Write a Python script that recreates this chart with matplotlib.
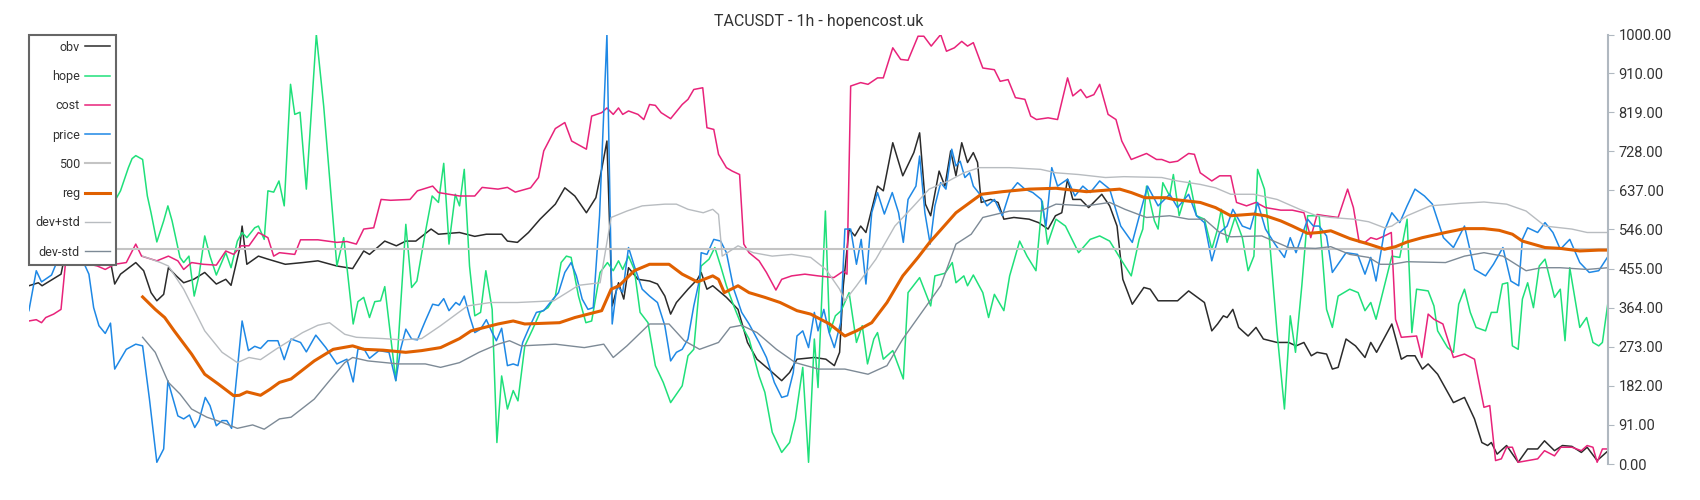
import matplotlib.pyplot as plt

# hour index (0..300) and values
price_x = [0,1.4,2.4,4.3,5.4,6.5,7.2,8.5,10.1,11.4,12.3,13.3,14.5,15.5,16.3,18.5,20.3,21.6,22.9,24.3,25.6,26.4,28.3,29.4,30.5,31.5,32.3,33.5,34.4,35.6,36.7,37.6,38.5,40.5,41.7,42.9,44,45.4,47.3,48.5,49.8,51.6,52.7,54.5,56.4,58.5,60.4,61.6,62.5,63.6,64.7,66.5,68.4,69.7,70.6,71.6,72.7,73.8,75.3,76.7,77.8,78.8,79.8,81.1,81.8,82.7,83.7,84.7,85.8,86.9,88,88.8,89.8,90.9,92,92.9,93.8,94.9,96.4,97.8,99.3,100.6,101.8,103,104,105.1,106.2,107.2,108.4,109.8,110.8,111.7,112.8,113.9,115,116.5,117.9,119.4,120.8,121.9,123,124.1,125.2,126.3,127.4,127.7,128.8,130.1,131.4,132.5,133.9,135.4,136.8,138.7,140.1,141.6,143,144.1,145.2,145.9,147,148.1,149.2,149.9,151,152,153,154.2,155,156.1,157.2,158.1,159,160.1,161.2,162.5,164,165.2,166.1,167,168.5,169.2,170.2,171.2,172.1,173.2,174.2,175.3,176.1,176.9,177.8,178.7,179.4,180.9,182,183.4,184.9,186.3,187.8,189.2,190.7,192.3,193.2,194.3,195.4,197.3,198.7,200.2,201.6,203.4,205.3,207.4,209.6,211.1,212.5,214.5,216.7,218.2,220.3,221.8,223.3,224.7,226.2,227.6,228.7,230.5,232,233.4,234.9,236.7,238.5,239.6,240.7,242.9,244,245.1,246.5,247.6,250.2,252.4,253.8,254.9,255.9,257.5,258.9,260.4,261.8,263.3,265.1,266.6,268.7,270.6,272.7,274.6,276.7,278.2,280,281.5,283,283.7,284.7,286.6,288,289.5,290.9,292.7,294.6,296.4,298.2,300]
price = [357,450,424,440,473,492,508,530,477,442,364,322,304,328,221,267,279,275,151,4,35,194,112,105,114,85,101,155,136,89,101,101,83,333,264,274,269,287,287,243,291,283,261,300,271,233,244,191,267,269,246,264,260,194,267,314,291,289,333,372,369,385,357,376,370,391,345,306,314,336,306,287,316,229,233,229,283,314,353,357,380,399,446,469,438,384,360,364,578,1000,326,415,400,504,461,407,391,376,322,240,260,267,291,368,430,492,488,523,519,492,407,353,326,283,248,190,155,159,213,298,310,271,353,310,360,306,271,329,547,547,465,523,419,585,632,582,632,585,516,616,647,717,585,512,601,655,640,733,694,705,667,678,647,624,601,616,578,632,655,640,632,616,554,690,647,663,624,647,632,659,640,554,516,585,647,601,628,597,628,578,562,473,539,554,593,554,547,609,547,512,481,527,492,570,554,554,531,446,492,488,442,481,426,543,585,562,601,640,624,605,527,504,554,453,438,465,504,426,415,523,550,539,562,539,500,523,469,446,450,484]

obv_x = [0,1.8,2.5,6.1,7.2,10,12,15.6,16.3,17.4,20.3,21.8,23.2,24.3,25.6,26.5,28,29.4,31.3,33.4,35.6,37.4,38.4,40,40.5,41.4,43.6,45.4,48.7,52,54.9,58.5,61.5,63.6,64.7,67.6,69.8,71.6,73.5,76.4,77.8,81.8,84.7,86.9,89.8,90.9,92.8,94.9,97.1,100,101.8,103.7,105.9,107.7,108.8,109.8,110.8,112,113,113.9,115.7,117.9,119.4,120.8,121.9,123,125.2,127,127.7,128.8,129.9,132.5,134.7,136.5,138.3,140.5,143,144.5,145.9,149.2,151.4,153,154,154.7,155.8,156.9,158,159,161.2,162.3,164.1,166,168.1,169.2,170.3,171.3,172.9,174,175.1,176.1,177.2,178.3,179.4,180.2,180.9,182.7,184.1,185.2,187.1,190,191.8,193.6,195,196.2,197.3,198.3,199.8,201.3,203.8,205.3,206.7,207.8,209.6,211.8,213,214.5,216.3,218.2,220.3,223.3,224.7,225.8,226.9,227.6,228.7,229.8,231.6,233.1,234.5,237.1,239.3,240.7,242.2,243.6,244.7,246.5,247.6,248.7,250.2,252,253.8,254.9,256,258.9,260.7,261.8,263.3,264.7,265.8,267.6,270.6,272.7,274.6,276,277.1,277.8,278.9,280.7,282.9,284.7,286.6,287.9,289.8,291.3,293.1,294.9,296,297.9,300]
obv = [415,422,415,442,508,480,469,465,419,442,469,450,399,380,395,457,438,422,430,446,419,430,416,500,554,465,484,477,465,469,473,461,455,496,488,519,508,519,519,547,535,539,530,535,535,519,516,539,570,605,643,624,585,620,686,752,368,422,384,457,430,426,419,391,349,376,407,430,446,407,415,388,360,283,244,221,194,213,244,248,244,229,260,415,547,531,554,539,647,636,748,671,725,771,605,578,682,647,729,671,748,702,725,702,609,616,609,570,574,570,562,547,578,585,663,616,616,597,628,601,554,430,372,411,407,380,380,380,403,376,310,326,345,341,360,318,298,318,291,283,283,275,283,252,260,256,221,225,291,275,248,283,260,326,244,252,252,221,233,209,143,155,105,50,43,50,23,43,4,35,35,54,31,43,41,27,39,8,31]

cost_x = [0,1.4,2.4,3.2,4.7,6.1,7.2,10.1,13,14.5,16.3,18.5,20.3,21.4,24.3,26.5,28.3,29.4,30.9,33.1,35.6,37.4,38.9,40.3,41.8,43.6,45.4,46.5,47.6,50.5,51.6,54.9,58.5,60.4,62.2,63.6,65.5,66.9,68.7,72.4,73.8,76.7,77.8,81.8,84.7,86.1,89.1,90.9,92.4,95.3,96.8,97.8,100,101.8,103.1,105.9,106.9,108.8,109.8,111,112,112.8,113.9,115.7,116.8,117.9,119,120.1,121.9,124.1,125.2,126.3,128,128.8,130.1,131,132.5,133.6,135,135.8,136.8,138.7,140.1,141.9,143,144.9,147.4,149.9,152.9,154.7,155.4,156.1,158,159.4,161.2,162.3,164.1,165.6,167,168.9,170,171.4,173.2,174.3,175.8,177.2,178.3,179.4,181.2,183.4,184.5,186,187.4,189.2,190.3,191.4,193.6,195.4,197.3,198.3,199.8,200.9,202.3,203.4,205,206.5,207.6,209.4,212.3,214.2,215.2,216.7,218.2,220.3,221.4,222.5,224.7,226.2,228.3,229.4,231.3,233.1,234.9,237.8,240,242.2,243.5,244.7,246.2,248.7,250.5,251.6,252.7,253.8,254.9,256,257.5,258.8,259.6,260.7,263.6,264.6,265.8,266.9,268.6,270.6,272.7,274.6,276.4,277.5,278.6,279.7,280.7,281.8,282.9,284.7,286.6,287.9,289.8,291,293.1,294.9,296,297.1,297.9,298.9,300]
cost = [333,336,329,341,349,360,500,469,461,453,465,469,512,484,473,484,473,453,469,465,463,496,488,508,508,539,527,484,492,488,522,522,516,518,512,547,550,616,614,616,636,647,632,624,624,644,640,644,633,643,667,729,781,795,752,733,810,818,829,814,829,814,822,814,802,837,835,818,804,837,849,872,876,783,779,721,690,682,674,512,492,473,446,405,430,438,442,438,434,449,442,880,888,884,899,899,969,942,940,996,996,973,1000,961,969,984,973,981,922,918,891,895,853,849,810,802,806,802,899,857,872,853,860,884,814,802,752,709,723,709,709,702,705,723,721,678,659,671,671,609,601,609,597,591,591,585,527,581,578,574,640,597,516,516,527,523,531,539,337,295,298,248,349,337,326,248,256,244,132,136,8,12,39,39,4,8,12,31,19,39,39,31,43,39,4,35,35]

hope_x = [0,3,6,9,12,15.6,16.3,17.4,18.9,19.6,20.3,21.6,22.5,23.2,24.3,25.6,26.4,27.2,28.7,29.4,30.4,31.4,32.3,33.4,34.4,35.6,37.4,38.4,39.6,40.5,41.4,42.9,43.6,44.7,45.4,46.5,47.5,48.5,49.7,50.5,51.5,52.7,54.6,56,58.5,59.8,61.6,62.5,63.6,64.7,65.7,66.8,67.6,69.7,71.6,72.7,73.7,75.3,76.6,77.8,78.8,79.8,81,81.8,82.7,83.7,84.7,85.8,86.8,88,88.9,89.8,90.9,92,92.9,94.2,95.7,97.1,98.6,100,101.1,102.1,103,104.4,105.8,106.9,108.5,109.9,111,112,112.8,113.9,115,116.1,117.6,119,120.5,121.9,124.1,125.2,126.3,127.7,129.2,130.3,131.4,132.5,133.9,135.4,136.8,138.7,139.8,141.2,143,144.5,145.6,147,148.1,149.2,149.9,151.3,152.1,153.2,154.3,155.8,157.2,158.3,159.3,160.5,161.2,162.3,164.1,166.1,167,169.2,171.3,172.1,174,175.4,176.1,177.6,178.3,179.4,181.2,182.3,183.4,185.2,186.3,188.2,189.6,191.3,192.5,193.5,195.1,196.9,199.4,201.6,203.4,205.3,207.4,209.4,210.9,211.6,212.3,213.8,214.5,215.4,216.7,217.4,218.5,220.5,221.8,223.3,224.7,225.8,226.5,227.6,229.1,230.5,231.6,232.7,233.4,234.7,235.6,237.1,238.5,239.6,240.6,241.8,242.9,245.1,246.5,247.6,248.7,250.9,252.5,253.8,254.9,255.9,257.5,258.9,260.4,261.8,262.7,263.6,265.8,266.9,267.6,269.5,270.6,271.6,272.7,273.8,274.9,276.7,277.8,278.9,279.9,280.9,281.8,282.9,283.7,284.7,285.8,286.9,288,289.8,290.9,291.8,292.7,294.6,295.9,297.1,298.2,298.9,300]
hope = [624,650,700,660,600,640,612,636,690,711,718,709,624,585,517,566,601,566,481,469,484,391,438,531,484,440,492,457,519,539,527,550,554,523,636,633,659,601,884,814,819,640,1000,833,461,527,326,378,388,341,378,380,413,194,558,411,426,539,624,609,700,512,628,601,686,461,345,353,450,360,50,205,128,171,147,275,314,353,364,391,469,484,481,391,329,333,446,469,450,473,453,484,453,353,329,229,190,143,182,252,267,461,477,504,461,415,368,322,291,205,167,74,27,50,105,225,4,291,178,589,306,345,357,399,283,322,233,291,306,244,264,198,399,434,368,438,444,469,422,438,415,440,399,341,395,357,438,519,484,450,612,512,570,554,492,523,531,519,477,438,523,547,647,566,547,655,624,674,578,659,578,570,500,547,593,516,574,527,450,484,686,640,531,306,128,345,260,415,578,578,360,318,391,407,399,357,376,337,415,484,481,570,306,407,403,368,310,271,260,372,407,353,318,310,353,353,419,422,275,267,384,422,364,461,477,388,407,287,457,318,341,283,275,283,380]

reg_x = [21.6,24,25.8,27.6,30.9,33.4,36,38.9,40,41.4,44,45.8,47.6,49.8,54.2,57.8,61.5,63.6,67.3,71.6,74.6,78.2,81.8,84,89.1,92,94.2,100.8,103.7,108.8,110.6,112.1,115,117.9,121.6,124.1,127,129.9,131,132.1,134.7,136.8,139.8,142.7,145.9,148.5,152.1,155,157.2,160.1,163,166,168.9,171.1,176.1,180.9,184.9,190,195.1,200.9,207.2,209.4,212,216,217.4,222.5,225.4,228.3,232.7,234.9,237.8,240,242.9,245.1,247.3,250.9,254.5,257.5,259.6,261.8,264.7,269.1,272.7,276.4,279.3,281.8,283.7,288,290.9,294.6,298.2,300]
reg = [389,360,341,310,256,209,186,159,160,168,160,174,190,198,240,267,275,267,265,260,264,271,292,310,326,333,326,329,341,357,407,415,450,465,465,442,424,438,430,399,415,399,388,376,357,349,326,298,310,329,376,438,481,516,585,628,634,640,642,634,640,632,620,620,616,609,597,578,582,578,566,554,537,539,543,525,512,500,506,517,527,539,548,548,544,535,519,504,502,496,498,498]

devp_x = [21.6,25,26.5,29.4,33.4,36.7,39.6,41.8,44,46.9,52,54.9,57.1,60,62.2,67.3,70.9,74.6,78.2,83.3,87.7,92.8,99.7,102.2,104.4,108.5,110.6,113.6,116.5,120.8,123,125.2,128.1,129.9,131,131.7,134.7,137.6,141.2,144.9,148.5,151.4,154,155,157.2,160.9,164.5,168.1,171,174.7,177.6,180.5,186.3,192.2,195.1,199.4,204.5,208,215.2,218.2,222.5,225.4,228.3,232.7,237.1,241.4,244.4,247.3,251.6,254.5,257.5,258.9,261.8,266.2,272,276.4,280.7,284.4,288,293.1,296,300]
devp = [484,469,461,407,310,260,236,248,243,267,306,323,329,302,295,292,289,292,322,368,376,376,380,399,416,422,574,589,601,605,605,593,585,593,581,484,508,492,484,488,481,453,407,380,415,477,554,601,640,659,678,690,690,686,678,674,667,669,667,659,651,643,628,628,616,593,579,574,570,564,550,554,578,601,607,610,605,589,554,547,539,539]

devm_x = [21.6,24,26.5,28.7,30.9,33.8,36.7,39.6,42.5,44.7,47.6,49.8,54.2,57.1,60,61.5,64.4,70.2,75.3,78.2,81.8,85.5,89.1,91.3,93.5,100,105.5,109.2,111,113.6,117.9,121.6,124.5,127.4,131,133.2,135.4,138.3,142,145.6,150,155,159.4,163,166,169.6,173.2,176.1,179,181.2,186.3,192.2,195.1,200.9,205.3,208.2,212.3,216.7,220.3,223.3,226.2,228.3,234.2,239.3,244.4,247.3,250.9,254.5,256.7,258.9,261.8,269.1,272.7,276.4,280,284.4,287.3,290.9,296,300]
devm = [295,260,190,163,128,109,97,83,91,81,105,109,151,194,236,248,240,233,233,225,236,260,279,287,275,279,271,279,248,275,326,326,287,267,283,318,323,306,267,236,221,221,209,229,291,353,415,512,535,574,589,589,605,601,609,593,574,578,570,570,539,529,531,504,502,506,488,481,465,465,471,469,484,492,484,450,457,457,453,457]

ticks = [0, 91, 182, 273, 364, 455, 546, 637, 728, 819, 910, 1000]

plt.rcParams['font.family'] = ['Roboto', 'DejaVu Sans']
fig = plt.figure(figsize=(17, 5), dpi=100)
ax = fig.add_axes([0.017, 0.072, 0.929, 0.859])

ax.plot(obv_x, obv, color='#2b2b2b', lw=1.1, label='obv')
ax.plot(hope_x, hope, color='#1fe07a', lw=1.1, label='hope')
ax.plot(cost_x, cost, color='#e8237a', lw=1.1, label='cost')
ax.plot(price_x, price, color='#1e88e5', lw=1.1, label='price')
ax.axhline(500, color='#c4c4c4', lw=1.5, label='500')
ax.plot(reg_x, reg, color='#e06000', lw=2.2, label='reg')
ax.plot(devp_x, devp, color='#b8bcc0', lw=1.0, label='dev+std')
ax.plot(devm_x, devm, color='#7d8a96', lw=1.0, label='dev-std')

ax.set_xlim(0, 300)
ax.set_ylim(0, 1000)
ax.yaxis.tick_right()
ax.set_yticks(ticks)
ax.set_yticklabels([f'{t:.2f}' for t in ticks], fontsize=10.5, color='#333333')
ax.tick_params(axis='y', length=4, color='#b0b8c0')
ax.set_xticks([])
for s in ['left', 'top', 'bottom']:
    ax.spines[s].set_visible(False)
ax.spines['right'].set_color('#b0b8c0')
ax.spines['right'].set_linewidth(1.5)

leg = ax.legend(loc='upper left', fontsize=9, labelspacing=1.3, handlelength=2.0,
                fancybox=False, framealpha=1, edgecolor='#666666', borderaxespad=0,
                markerfirst=False, handletextpad=0.4, borderpad=0.5)
leg.get_frame().set_linewidth(1.5)
for t in leg.get_texts():
    t.set_color('#333333')
ax.set_title('TACUSDT - 1h - hopencost.uk', fontsize=11.5, color='#333333', pad=6)

fig.savefig('out.png')
